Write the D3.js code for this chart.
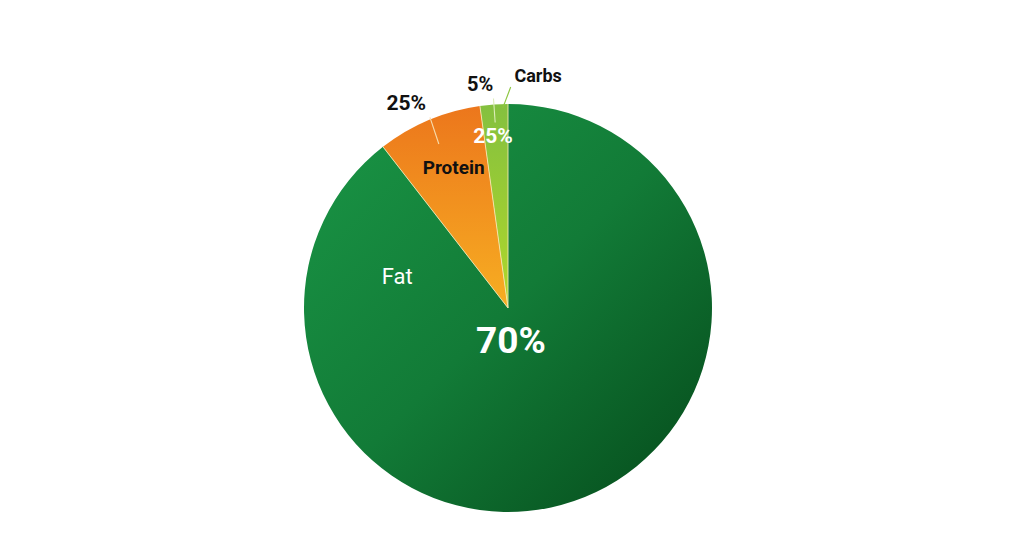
<!DOCTYPE html>
<html>
<head>
<meta charset="utf-8">
<script src="https://cdn.jsdelivr.net/npm/d3@7"></script>
<style>
  html, body { margin: 0; padding: 0; background: #fff; }
  svg { display: block; font-family: Roboto, "Noto Sans", sans-serif; }
</style>
</head>
<body>
<div id="chart"></div>
<script>
// slice shares as drawn (counter-clockwise from 12 o'clock)
const categories = ['Carbs', 'Protein', 'Fat'];
const shares = [2.2, 8.3, 89.5];
// percent texts as printed on the chart
const pctLabels = ['25%', '25%', '70%'];
const outerPctLabels = ['5%', '25%', null];

const width = 1024;
const height = 559;
const cx = 508;
const cy = 308;
const r = 204;

const svg = d3.select('#chart')
  .append('svg')
  .attr('width', width)
  .attr('height', height);

const defs = svg.append('defs');

// gradients live in the pie group's coordinates (origin = centre)
const fatGrad = defs.append('linearGradient')
  .attr('id', 'g-fat')
  .attr('gradientUnits', 'userSpaceOnUse')
  .attr('x1', -r).attr('y1', -r)
  .attr('x2', r).attr('y2', r);
fatGrad.append('stop').attr('offset', '0%').attr('stop-color', '#1a9646');
fatGrad.append('stop').attr('offset', '50%').attr('stop-color', '#127b37');
fatGrad.append('stop').attr('offset', '100%').attr('stop-color', '#05491a');

const protGrad = defs.append('linearGradient')
  .attr('id', 'g-protein')
  .attr('gradientUnits', 'userSpaceOnUse')
  .attr('x1', 0).attr('y1', -r)
  .attr('x2', 0).attr('y2', 0);
protGrad.append('stop').attr('offset', '0%').attr('stop-color', '#ec761c');
protGrad.append('stop').attr('offset', '100%').attr('stop-color', '#f7ae22');

const carbGrad = defs.append('linearGradient')
  .attr('id', 'g-carbs')
  .attr('gradientUnits', 'userSpaceOnUse')
  .attr('x1', 0).attr('y1', -r)
  .attr('x2', 0).attr('y2', 0);
carbGrad.append('stop').attr('offset', '0%').attr('stop-color', '#84c03f');
carbGrad.append('stop').attr('offset', '100%').attr('stop-color', '#b0d82a');

const fills = { Carbs: 'url(#g-carbs)', Protein: 'url(#g-protein)', Fat: 'url(#g-fat)' };

const pie = d3.pie()
  .sort(null)
  .startAngle(0)
  .endAngle(-2 * Math.PI);

const arcs = pie(shares).map((d, i) => ({ ...d, name: categories[i], i }));

const arc = d3.arc().innerRadius(0).outerRadius(r);

const g = svg.append('g').attr('transform', `translate(${cx},${cy})`);

g.selectAll('path.slice')
  .data(arcs)
  .enter()
  .append('path')
  .attr('class', 'slice')
  .attr('d', arc)
  .attr('fill', (d) => fills[d.name]);

// thin light seams along the slice edges (no outline on the rim)
g.selectAll('line.seam')
  .data(arcs)
  .enter()
  .append('line')
  .attr('class', 'seam')
  .attr('x1', 0)
  .attr('y1', 0)
  .attr('x2', (d) => Math.sin(d.startAngle) * r)
  .attr('y2', (d) => -Math.cos(d.startAngle) * r)
  .attr('stroke', '#f4e7b0')
  .attr('stroke-width', 0.9);

// polar helper: degrees clockwise from 12 o'clock
const polar = (deg, rad) => {
  const a = (deg * Math.PI) / 180;
  return [Math.sin(a) * rad, -Math.cos(a) * rad];
};
const mid = (d) => ((d.startAngle + d.endAngle) / 2) * 180 / Math.PI;

// leader lines
const leaders = [
  { a0: mid(arcs[1]), r0: 178, a1: mid(arcs[1]) + 0.6, r1: 206, color: '#f6dcae' },
  { a0: mid(arcs[0]), r0: 186, a1: mid(arcs[0]), r1: 210, color: '#dcecb8' },
  { a0: -1.5, r0: 200, a1: 0.7, r1: 221, color: '#8cc63f' },
];
g.selectAll('line.leader')
  .data(leaders)
  .enter()
  .append('line')
  .attr('class', 'leader')
  .attr('x1', (d) => polar(d.a0, d.r0)[0])
  .attr('y1', (d) => polar(d.a0, d.r0)[1])
  .attr('x2', (d) => polar(d.a1, d.r1)[0])
  .attr('y2', (d) => polar(d.a1, d.r1)[1])
  .attr('stroke', (d) => d.color)
  .attr('stroke-width', 1.1);

// label placement (angle, radius) per text
const texts = [
  { t: outerPctLabels[1], a: -26.4, rad: 229, size: 21, w: 700, fill: '#111' },
  { t: outerPctLabels[0], a: -7.1, rad: 226, size: 20, w: 700, fill: '#111' },
  { t: categories[0], a: 7.4, rad: 234, size: 18, w: 700, fill: '#111' },
  { t: pctLabels[0], a: -5, rad: 173, size: 21, w: 700, fill: '#fff' },
  { t: categories[1], a: -21.1, rad: 151, size: 19, w: 700, fill: '#111' },
  { t: categories[2], a: -74.3, rad: 115, size: 22, w: 400, fill: '#fff' },
  { t: pctLabels[2], a: 175, rad: 33, size: 37, w: 700, fill: '#fff' },
];

g.selectAll('text.lbl')
  .data(texts)
  .enter()
  .append('text')
  .attr('class', 'lbl')
  .attr('x', (d) => polar(d.a, d.rad)[0])
  .attr('y', (d) => polar(d.a, d.rad)[1])
  .attr('text-anchor', 'middle')
  .attr('dominant-baseline', 'central')
  .attr('font-size', (d) => d.size)
  .attr('font-weight', (d) => d.w)
  .attr('fill', (d) => d.fill)
  .text((d) => d.t);
</script>
</body>
</html>
